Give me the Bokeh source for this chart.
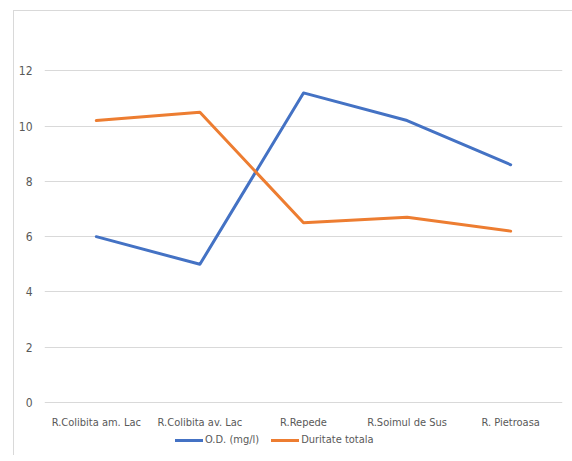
from bokeh.plotting import figure
from bokeh.models import Legend, LegendItem, FixedTicker
from bokeh.embed import file_html
from bokeh.resources import INLINE

stations = ["R.Colibita am. Lac", "R.Colibita av. Lac", "R.Repede", "R.Soimul de Sus", "R. Pietroasa"]
od_mg_l = [6.0, 5.0, 11.2, 10.2, 8.6]
duritate_totala = [10.2, 10.5, 6.5, 6.7, 6.2]
y_ticks = [0, 2, 4, 6, 8, 10, 12]

FONT = "DejaVu Sans Condensed"
TEXT = "#595959"
GRID = "#d9d9d9"

# chart-area border (left and top edges) painted behind a transparent canvas
edge = "linear-gradient(#d9d9d9,#d9d9d9)"
bg = f"{edge} 13px 10px / 1px 100% no-repeat, {edge} 13px 10px / 100% 1px no-repeat, white"

# the frame reaches down to the legend row; the category axis sits at y = 0
p = figure(
    x_range=stations, y_range=(-1.916, 14.0),
    frame_width=518, frame_height=440,
    output_backend="svg", toolbar_location=None,
    min_border_left=44, min_border_right=10, min_border_top=15, min_border_bottom=0,
    styles={"background": bg},
)
p.outline_line_color = None
p.background_fill_color = "white"
p.border_fill_alpha = 0

blue = p.line(stations, od_mg_l, line_color="#4472C4", line_width=3, line_join="round", line_cap="round")
orange = p.line(stations, duritate_totala, line_color="#ED7D31", line_width=3, line_join="round", line_cap="round")

p.yaxis.ticker = FixedTicker(ticks=y_ticks)
p.ygrid.ticker = FixedTicker(ticks=y_ticks)
p.ygrid.grid_line_color = GRID
p.ygrid.grid_line_width = 1
p.xgrid.grid_line_color = None
p.xaxis.fixed_location = 0

for ax in (p.xaxis, p.yaxis):
    ax.axis_line_color = None
    ax.major_tick_line_color = None
    ax.minor_tick_line_color = None
    ax.major_label_text_font = FONT
    ax.major_label_text_color = TEXT
p.yaxis.major_label_text_font_size = "12px"
p.xaxis.major_label_text_font_size = "11px"
p.yaxis.major_label_standoff = 6
p.xaxis.major_label_standoff = 7

legend = Legend(
    items=[LegendItem(label="O.D. (mg/l)", renderers=[blue]),
           LegendItem(label="Duritate totala", renderers=[orange])],
    orientation="horizontal", location=(131, 9),
    label_text_font=FONT, label_text_font_size="11px", label_text_color=TEXT,
    glyph_width=28, glyph_height=12, label_standoff=2, spacing=12,
    padding=0, margin=0, border_line_color=None, background_fill_alpha=0,
)
p.add_layout(legend, "center")

open("out.html", "w").write(file_html(p, INLINE))
